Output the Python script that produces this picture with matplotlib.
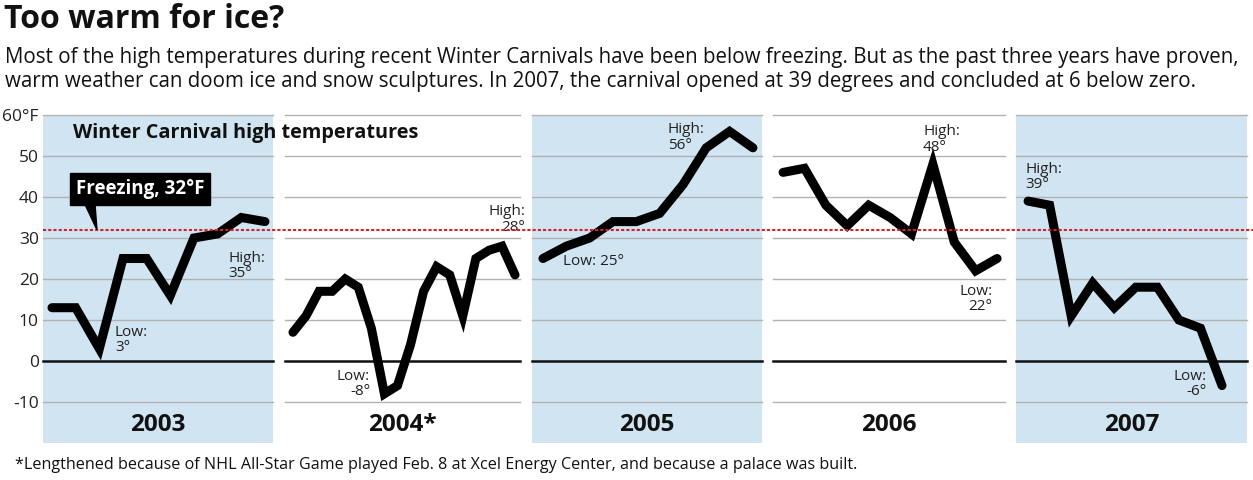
import matplotlib
matplotlib.use('Agg')
import matplotlib.pyplot as plt
from matplotlib.patches import Polygon

# ---------------- data ----------------
year_labels = ['2003', '2004*', '2005', '2006', '2007']
temps_2003 = [13, 13, 3, 25, 25, 16, 30, 31, 35, 34]
temps_2004 = [7, 11, 17, 17, 20, 18, 8, -8, -6, 4, 17, 23, 21, 11, 25, 27, 28, 21]
temps_2005 = [25, 28, 30, 34, 34, 36, 43, 52, 56, 52]
temps_2006 = [46, 47, 38, 33, 38, 35, 31, 48, 29, 22, 25]
temps_2007 = [39, 38, 11, 19, 13, 18, 18, 10, 8, -6]
series = [temps_2003, temps_2004, temps_2005, temps_2006, temps_2007]
y_ticks = [-10, 0, 10, 20, 30, 40, 50, 60]
y_tick_labels = ['-10', '0', '10', '20', '30', '40', '50', '60°F']
freezing = 32

# annotations: (x index, y value, text, ha)
notes = [
    [(2.66, 8.8, 'Low:\n3°', 'left'), (7.44, 26.9, 'High:\n35°', 'left')],
    [(5.9, -1.9, 'Low:\n-8°', 'right'), (17.76, 38.3, 'High:\n28°', 'right')],
    [(0.86, 26.2, 'Low: 25°', 'left'), (5.36, 58.3, 'High:\n56°', 'left')],
    [(6.54, 57.8, 'High:\n48°', 'left'), (9.77, 18.8, 'Low:\n22°', 'right')],
    [(-0.14, 48.6, 'High:\n39°', 'left'), (8.3, -1.9, 'Low:\n-6°', 'right')],
]

# ---------------- layout ----------------
W, H = 1253, 480
FONT = ['Open Sans', 'DejaVu Sans']
plt.rcParams['font.family'] = FONT
fig = plt.figure(figsize=(W / 100, H / 100), dpi=100)
fig.patch.set_facecolor('white')

panel_px = [(43, 273), (285, 520), (532, 762), (773, 1005), (1016, 1247)]
xlims = [(-0.38, 9.34), (-0.61, 17.38), (-0.47, 9.39), (-0.47, 10.37), (-0.56, 10.16)]
shaded = [True, False, True, False, True]
top_px, bot_px = 115, 443
BLUE = '#d0e4f2'
GRID = '#b2b2b2'
TXT = '#222222'


def fx(px):
    return px / W


def fy(py):
    return 1 - py / H


for i, (temps, label) in enumerate(zip(series, year_labels)):
    x0, x1 = panel_px[i]
    ax = fig.add_axes([fx(x0), fy(bot_px), (x1 - x0) / W, (bot_px - top_px) / H])
    ax.set_facecolor(BLUE if shaded[i] else 'white')
    ax.set_xlim(*xlims[i])
    ax.set_ylim(-20, 60)
    for s in ax.spines.values():
        s.set_visible(False)
    ax.set_xticks([])
    for t in y_ticks:
        if t == 0:
            ax.axhline(t, color='#111111', lw=1.8, zorder=1, clip_on=False)
        else:
            ax.axhline(t, color=GRID, lw=1.0, zorder=1, clip_on=False)
    ax.plot(range(len(temps)), temps, color='black', lw=6.5,
            solid_joinstyle='miter', solid_capstyle='round', zorder=3)
    if i == 0:
        ax.set_yticks(y_ticks)
        ax.set_yticklabels(y_tick_labels)
        ax.tick_params(axis='y', length=0, pad=3, labelsize=12.5, labelcolor=TXT)
    else:
        ax.set_yticks([])
    xm = sum(xlims[i]) / 2
    ax.text(xm, -15.6, label, ha='center', va='center', fontsize=17.5,
            fontweight='bold', color='#111111')
    for (nx, ny, ntext, ha) in notes[i]:
        ax.text(nx, ny, ntext, ha=ha, va='top', fontsize=11, color=TXT,
                linespacing=1.05, zorder=4)

# overlay for freezing line and label
ov = fig.add_axes([fx(43), fy(bot_px), (W - 43) / W, (bot_px - top_px) / H])
ov.set_xlim(0, 1)
ov.set_ylim(-20, 60)
ov.axis('off')
ov.patch.set_alpha(0)
ov.axhline(freezing, color='#d2232a', lw=1.5, linestyle=(0, (1.5, 1.0)), zorder=5)
ov.add_patch(Polygon([[0.0347, 38.2], [0.0430, 38.2], [0.0446, freezing]],
                     closed=True, color='black', zorder=6))
ov.text(0.0802, 41.9, 'Freezing, 32°F', ha='center', va='center', fontsize=13.5,
        fontweight='bold', color='white', zorder=7,
        bbox=dict(boxstyle='square,pad=0.32', fc='black', ec='black'))
ov.text(0.0248, 55.5, 'Winter Carnival high temperatures', ha='left', va='center',
        fontsize=14.3, fontweight='bold', color='#111111', zorder=6)

# ---------------- titles ----------------
fig.text(fx(4), fy(19), 'Too warm for ice?', ha='left', va='center', fontsize=23,
         fontweight='bold', color='#111111')
fig.text(fx(5), fy(57), 'Most of the high temperatures during recent Winter Carnivals have been below '
         'freezing. But as the past three years have proven,', ha='left', va='center',
         fontsize=14.8, color='#111111')
fig.text(fx(5), fy(81), 'warm weather can doom ice and snow sculptures. In 2007, the carnival opened '
         'at 39 degrees and concluded at 6 below zero.', ha='left', va='center',
         fontsize=14.8, color='#111111')
fig.text(fx(15), fy(465), '*Lengthened because of NHL All-Star Game played Feb. 8 at Xcel Energy '
         'Center, and because a palace was built.', ha='left', va='center',
         fontsize=11.6, color='#111111')

fig.savefig('out.png', dpi=100, facecolor='white')
